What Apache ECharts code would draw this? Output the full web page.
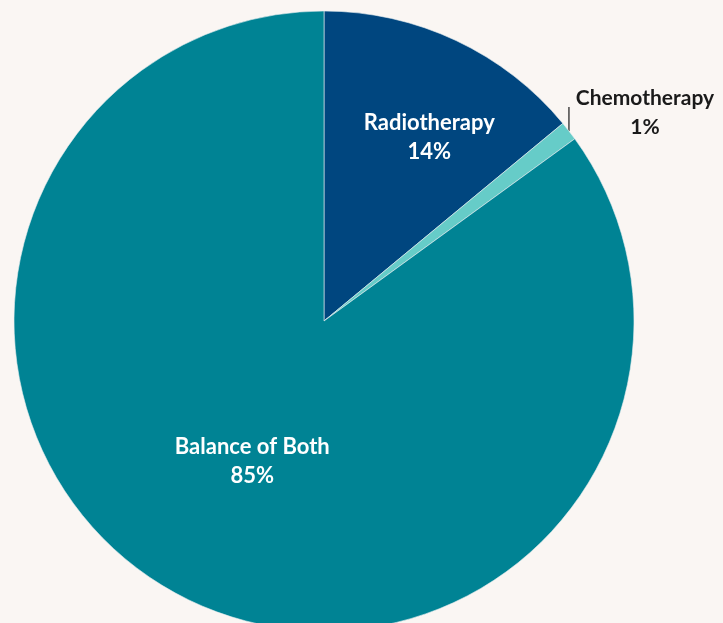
<!DOCTYPE html>
<html><head><meta charset="utf-8">
<script src="https://cdn.jsdelivr.net/npm/echarts@6/dist/echarts.min.js"></script>
<style>html,body{margin:0;padding:0;background:#faf6f3;}#c{width:723px;height:623px;}</style>
</head><body><div id="c"></div>
<script>
const categories = ['Radiotherapy', 'Chemotherapy', 'Balance of Both'];
const values = [14, 1, 85];
const colors = ['#00467f', '#66ccc8', '#008394'];

const chart = echarts.init(document.getElementById('c'), null, {renderer: 'canvas'});
const font = 'Lato';
chart.setOption({
  backgroundColor: '#faf6f3',
  animation: false,
  series: [{
    type: 'pie',
    center: [324, 321],
    radius: [0, 310],
    startAngle: 90,
    clockwise: true,
    silent: true,
    itemStyle: {borderColor: '#e8eef0', borderWidth: 0.6},
    label: {
      position: 'inside',
      formatter: p => p.name + '\n' + p.value + '%',
      fontFamily: font, fontWeight: 'bold', fontSize: 22, lineHeight: 29,
      color: '#ffffff', align: 'center', overflow: 'none'
    },
    labelLayout: function (p) {
      if (p.dataIndex === 0) return {dx: 38, dy: -41};
      if (p.dataIndex === 1) {
        const pt = p.labelLinePoints[0];
        return {
          x: pt[0] + 76, y: pt[1] - 18, align: 'center', verticalAlign: 'middle',
          labelLinePoints: [[pt[0], pt[1]], [pt[0], pt[1] - 12], [pt[0], pt[1] - 24]]
        };
      }
      return {};
    },
    data: categories.map((n, i) => {
      const d = {name: n, value: values[i], itemStyle: {color: colors[i]}};
      if (i === 1) {
        d.label = {position: 'outside', color: '#1a1a1a', overflow: 'none', width: 200, fontSize: 21};
        d.labelLine = {show: true, length: 10, length2: 10, lineStyle: {color: '#1a1a1a', width: 1.2}};
      }
      return d;
    })
  }]
});
</script></body></html>
